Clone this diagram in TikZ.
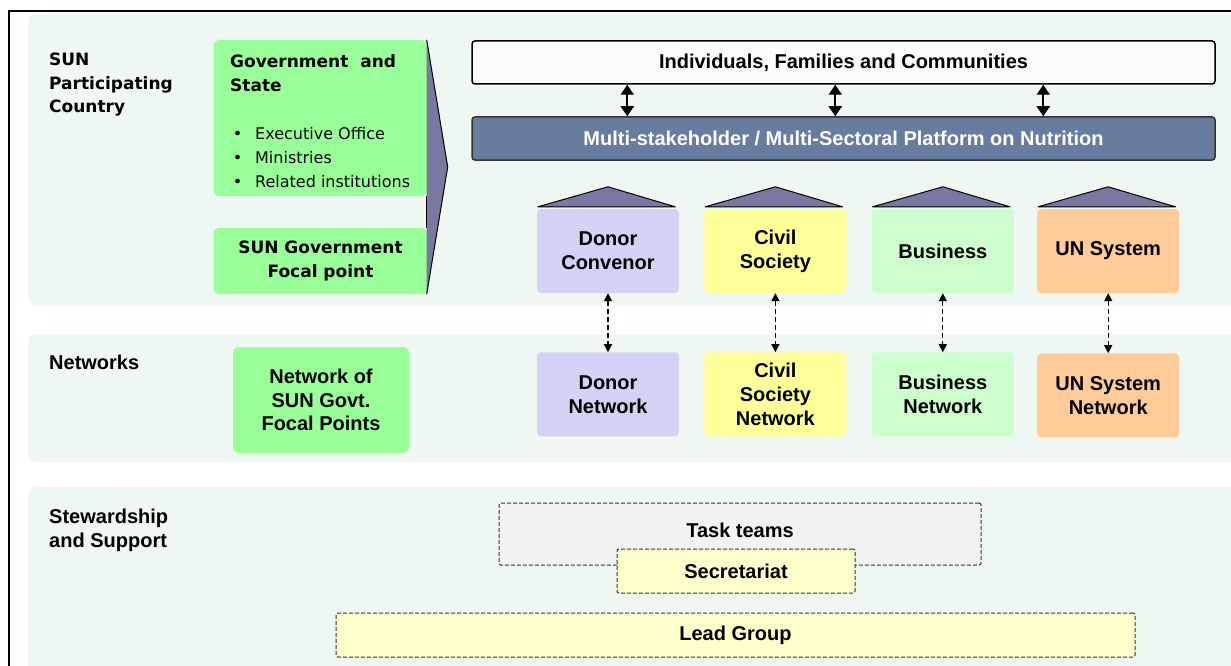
\documentclass[tikz,border=0pt]{standalone}
\usepackage{fontspec}
\setmainfont{Liberation Sans}
\newfontfamily\tahfont{DejaVu Sans}
\usetikzlibrary{positioning,calc,arrows.meta}
\definecolor{bandbg}{RGB}{238,247,242}
\definecolor{govgreen}{RGB}{153,255,153}
\definecolor{roofcol}{RGB}{120,120,160}
\definecolor{platcol}{RGB}{104,124,160}
\definecolor{indfill}{RGB}{249,252,250}
\definecolor{donorcol}{RGB}{210,210,245}
\definecolor{civilcol}{RGB}{255,255,153}
\definecolor{bizcol}{RGB}{204,255,204}
\definecolor{uncol}{RGB}{255,204,153}
\definecolor{taskcol}{RGB}{242,242,242}
\definecolor{seccol}{RGB}{255,255,204}
\tikzset{
    band/.style = {fill=bandbg, rounded corners=8pt},
    govbox/.style = {fill=govgreen, rounded corners=6pt, align=center,
        font=\tahfont\bfseries\fontsize{17}{24}\selectfont},
    colbox/.style = {rounded corners=4pt, minimum width=142pt,
        minimum height=84pt, align=center, inner sep=2pt,
        font=\bfseries\fontsize{20}{24}\selectfont},
    widebox/.style = {minimum width=743pt, minimum height=43pt,
        line width=1.5pt, rounded corners=3pt,
        font=\bfseries\fontsize{20}{24}\selectfont},
    roof/.style = {fill=roofcol, draw=black, line width=1pt, line join=round},
    dblarrow/.style = {line width=2pt,
        {Triangle[width=13pt,length=10pt]}-{Triangle[width=13pt,length=10pt]}},
    dasharrow/.style = {line width=1.3pt, dash pattern=on 5pt off 3pt,
        {Triangle[width=8pt,length=8pt]}-{Triangle[width=8pt,length=8pt]}},
    dashbox/.style = {draw=black!80, dash pattern=on 4pt off 2pt, line width=1pt,
        rounded corners=2pt, font=\bfseries\fontsize{20}{24}\selectfont},
    rowlabel/.style = {anchor=base west, align=left, inner sep=0pt,
        font=\bfseries\fontsize{20}{24}\selectfont}
}
\begin{document}
\begin{tikzpicture}[x=1pt, y=-1pt]
    \useasboundingbox (0,0) rectangle (1231,666);
    \clip (0,0) rectangle (1231,666);
    % background bands
    \fill[band] (28,14) rectangle (1260,305);
    \fill[band] (28,334) rectangle (1260,462);
    \fill[band] (28,487) rectangle (1260,700);
    \draw[line width=1.5pt] (9,670) -- (9,11) -- (1240,11);
    % row labels (base = last line)
    \node[rowlabel, font=\tahfont\bfseries\fontsize{17}{23.5}\selectfont] (lblsun) at (49,113) {SUN\\Participating\\Country};
    \node[rowlabel] (lblnet) at (49,369) {Networks};
    \node[rowlabel] (lblstew) at (49,547) {Stewardship\\and Support};
    % government side
    \node[govbox, minimum width=214pt, minimum height=156pt] (gov) at (320.5,118) {};
    \node[govbox, minimum width=214pt, minimum height=66pt] (focal) at (320.5,261) {SUN Government\\Focal point};
    \node[anchor=base west, inner sep=0pt, align=left,
        font=\tahfont\bfseries\fontsize{17}{24}\selectfont] (govtitle) at (230,92) {Government\hspace{6pt} and\\State};
    \node[anchor=base west, inner sep=0pt, align=left,
        font=\tahfont\fontsize{16}{24}\selectfont] (govlist) at (230,187)
        {\makebox[25pt][l]{\,\textbullet}Executive Office\\
         \makebox[25pt][l]{\,\textbullet}Ministries\\
         \makebox[25pt][l]{\,\textbullet}Related institutions};
    \coordinate (tip) at ($(gov.north east)!0.5!(focal.south east)+(20,0)$);
    \fill[roofcol] ($(gov.north east)+(-1,0)$) -- (tip) -- ($(focal.south east)+(-1,0)$) -- cycle;
    \draw[line width=1pt, line join=round] ($(gov.north east)+(-1,0)$) -- (tip) -- ($(focal.south east)+(-1,0)$);
    \draw[line width=1pt] ($(gov.south east)+(-1,0)$) -- ($(focal.north east)+(-1,0)$);
    \node[govbox, minimum width=176pt, minimum height=106pt,
        font=\bfseries\fontsize{20}{23.5}\selectfont] (netfocal) at (321,400) {Network of\\SUN Govt.\\Focal Points};
    % platform
    \node[widebox, draw=black, fill=indfill] (ind) at (843.5,62.5) {Individuals, Families and Communities};
    \node[widebox, draw=black!80, fill=platcol, text=white] (plat) at (843.5,138.5) {Multi-stakeholder / Multi-Sectoral Platform on Nutrition};
    \foreach \dx in {156,364,572}
        \draw[dblarrow] ($(ind.south west)+(\dx,0)$) -- ($(plat.north west)+(\dx,0)$);
    % constituencies
    \node[colbox, fill=donorcol] (donor) at (608,251) {Donor\\Convenor};
    \node[colbox, fill=civilcol, right=25pt of donor] (civil) {Civil\\Society};
    \node[colbox, fill=bizcol, right=25pt of civil] (biz) {Business};
    \node[colbox, fill=uncol, right=23pt of biz] (un) {\raisebox{-3pt}{UN System}};
    \foreach \n in {donor,civil,biz,un}
        \draw[roof] ($(\n.north west)+(1,-2)$) -- ($(\n.north)+(0,-22)$) -- ($(\n.north east)+(-4,-2)$) -- cycle;
    % networks
    \node[colbox, fill=donorcol, below=59pt of donor] (donornet) {Donor\\Network};
    \node[colbox, fill=civilcol, below=59pt of civil] (civilnet) {Civil\\Society\\Network};
    \node[colbox, fill=bizcol, below=59pt of biz] (biznet) {Business\\Network};
    \node[colbox, fill=uncol, below=60pt of un] (unnet) {UN System\\Network};
    \foreach \a/\b in {donor/donornet,civil/civilnet,biz/biznet,un/unnet}
        \draw[dasharrow] (\a.south) -- (\b.north);
    % stewardship
    \node[dashbox, fill=taskcol, minimum width=482pt, minimum height=62pt] (task) at (740,534) {\raisebox{7pt}{Task teams}};
    \node[dashbox, fill=seccol, minimum width=238pt, minimum height=44pt] (sec) at (736,571) {Secretariat};
    \node[dashbox, fill=seccol, minimum width=799pt, minimum height=44pt] (lead) at (735.5,635) {Lead Group};
\end{tikzpicture}
\end{document}
